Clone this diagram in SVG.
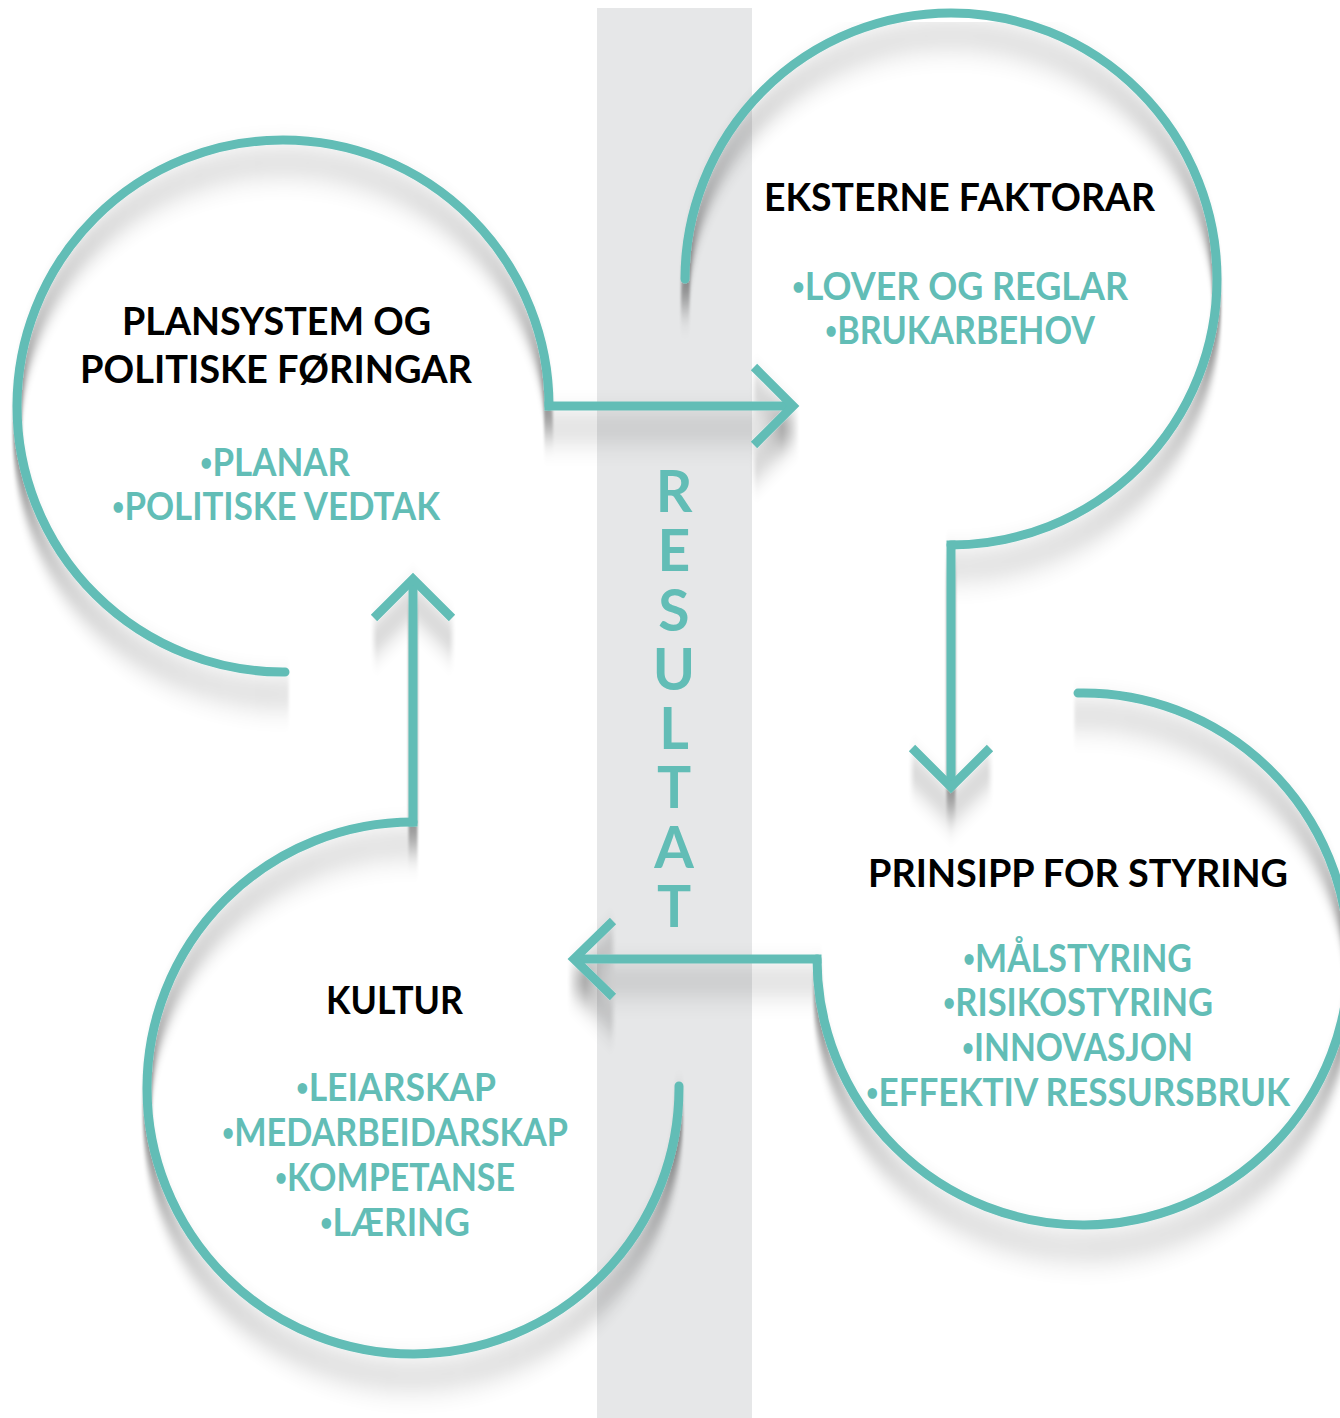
<svg xmlns="http://www.w3.org/2000/svg" width="1340" height="1418" viewBox="0 0 1340 1418">
  <defs>
    <filter id="sh" filterUnits="userSpaceOnUse" x="0" y="0" width="1340" height="1418">
      <feGaussianBlur in="SourceAlpha" stdDeviation="1 15" result="b"/>
      <feOffset in="b" dy="22" result="o"/>
      <feColorMatrix in="o" type="matrix" values="0 0 0 0 0  0 0 0 0 0  0 0 0 0 0  0 0 0 0.42 0" result="s"/>
      <feMerge>
        <feMergeNode in="s"/>
        <feMergeNode in="SourceGraphic"/>
      </feMerge>
    </filter>
    <style>
      .ring { fill: none; stroke: #62bdb6; stroke-width: 9; stroke-linecap: round; }
      .line { fill: none; stroke: #62bdb6; stroke-width: 9; stroke-linecap: butt; }
      .head { fill: none; stroke: #62bdb6; stroke-width: 9; stroke-linecap: butt; stroke-linejoin: miter; }
      .h { font-family: Lato, "Liberation Sans", sans-serif; font-weight: 700; font-size: 39px; fill: #000; text-anchor: middle; }
      .b { font-family: Lato, "Liberation Sans", sans-serif; font-weight: 700; font-size: 39px; fill: #62bdb6; text-anchor: middle; }
      .dot { font-size: 24px; baseline-shift: 5px; }
      .r { font-family: Lato, "Liberation Sans", sans-serif; font-weight: 700; font-size: 57px; fill: #62bdb6; writing-mode: vertical-rl; text-orientation: upright; }
    </style>
  </defs>

  <rect id="band" x="597" y="8" width="155" height="1410" fill="#e6e7e8"/>

  <g id="resultat">
    <text class="r" x="674" y="456" textLength="483" lengthAdjust="spacing">RESULTAT</text>
  </g>

  <g filter="url(#sh)">
    <g id="node-plansystem">
      <path class="ring" d="M 285 672 A 266 266 0 0 1 17 406 A 266 266 0 0 1 549 406"/>
    </g>
    <g id="node-eksterne">
      <path class="ring" d="M 685 279 A 266 266 0 0 1 1217 279 A 266 266 0 0 1 951 545"/>
    </g>
    <g id="node-prinsipp">
      <path class="ring" d="M 1078 693 A 266 266 0 1 1 817 959"/>
    </g>
    <g id="node-kultur">
      <path class="ring" d="M 413 822 A 266 266 0 1 0 679 1086"/>
    </g>
    <g id="connectors">
      <path class="line" d="M 544.5 406 H 792"/>
      <path class="head" d="M 754 367 L 793 406 L 754 445"/>
      <path class="line" d="M 951 540.5 V 785"/>
      <path class="head" d="M 912 748 L 951 787 L 990 748"/>
      <path class="line" d="M 821.5 959 H 575"/>
      <path class="head" d="M 613 921 L 574 959 L 613 997"/>
      <path class="line" d="M 413 826.5 V 582"/>
      <path class="head" d="M 374 618 L 413 579 L 452 618"/>
    </g>
  </g>

  <g id="text-plansystem">
    <text class="h" x="276.5" y="335" textLength="309" lengthAdjust="spacingAndGlyphs">PLANSYSTEM OG</text>
    <text class="h" x="276" y="383" textLength="392" lengthAdjust="spacingAndGlyphs">POLITISKE FØRINGAR</text>
    <text class="b" x="275" y="476" textLength="150" lengthAdjust="spacingAndGlyphs"><tspan class="dot">•</tspan>PLANAR</text>
    <text class="b" x="276" y="520" textLength="328" lengthAdjust="spacingAndGlyphs"><tspan class="dot">•</tspan>POLITISKE VEDTAK</text>
  </g>
  <g id="text-eksterne">
    <text class="h" x="959.5" y="211" textLength="391" lengthAdjust="spacingAndGlyphs">EKSTERNE FAKTORAR</text>
    <text class="b" x="960" y="300" textLength="336" lengthAdjust="spacingAndGlyphs"><tspan class="dot">•</tspan>LOVER OG REGLAR</text>
    <text class="b" x="960" y="344" textLength="270" lengthAdjust="spacingAndGlyphs"><tspan class="dot">•</tspan>BRUKARBEHOV</text>
  </g>
  <g id="text-prinsipp">
    <text class="h" x="1078" y="887" textLength="420" lengthAdjust="spacingAndGlyphs">PRINSIPP FOR STYRING</text>
    <text class="b" x="1077.5" y="972" textLength="229" lengthAdjust="spacingAndGlyphs"><tspan class="dot">•</tspan>MÅLSTYRING</text>
    <text class="b" x="1078" y="1016" textLength="270" lengthAdjust="spacingAndGlyphs"><tspan class="dot">•</tspan>RISIKOSTYRING</text>
    <text class="b" x="1077.5" y="1061" textLength="231" lengthAdjust="spacingAndGlyphs"><tspan class="dot">•</tspan>INNOVASJON</text>
    <text class="b" x="1078" y="1106" textLength="424" lengthAdjust="spacingAndGlyphs"><tspan class="dot">•</tspan>EFFEKTIV RESSURSBRUK</text>
  </g>
  <g id="text-kultur">
    <text class="h" x="394.5" y="1014" textLength="137" lengthAdjust="spacingAndGlyphs">KULTUR</text>
    <text class="b" x="396" y="1101" textLength="200" lengthAdjust="spacingAndGlyphs"><tspan class="dot">•</tspan>LEIARSKAP</text>
    <text class="b" x="395" y="1146" textLength="346" lengthAdjust="spacingAndGlyphs"><tspan class="dot">•</tspan>MEDARBEIDARSKAP</text>
    <text class="b" x="395" y="1191" textLength="240" lengthAdjust="spacingAndGlyphs"><tspan class="dot">•</tspan>KOMPETANSE</text>
    <text class="b" x="395" y="1236" textLength="150" lengthAdjust="spacingAndGlyphs"><tspan class="dot">•</tspan>LÆRING</text>
  </g>
</svg>
